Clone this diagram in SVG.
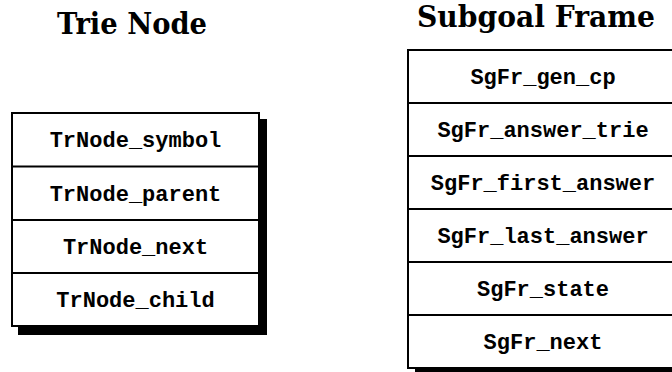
<svg xmlns="http://www.w3.org/2000/svg" width="672" height="372" viewBox="0 0 672 372">
  <style>
    .title { font-family: "DejaVu Serif", "Liberation Serif", serif; font-weight: bold; font-size: 29px; fill: #000; }
    .field { font-family: "Liberation Mono", "DejaVu Sans Mono", monospace; font-weight: bold; font-size: 22px; fill: #000; text-anchor: middle; }
    .box { fill: #fff; stroke: #000; stroke-width: 2; }
    .sep { stroke: #000; stroke-width: 2; }
    .shadow { fill: #000; }
  </style>
  <rect x="0" y="0" width="672" height="372" fill="#fff"/>

  <!-- Trie node record -->
  <g id="trie-node">
    <text class="title" x="57" y="34" textLength="150" lengthAdjust="spacingAndGlyphs">Trie Node</text>
    <rect class="shadow" x="18" y="119" width="249" height="216"/>
    <rect class="box" x="12" y="113" width="247" height="213"/>
    <line class="sep" x1="12" y1="166.5" x2="259" y2="166.5"/>
    <line class="sep" x1="12" y1="220" x2="259" y2="220"/>
    <line class="sep" x1="12" y1="273" x2="259" y2="273"/>
    <text class="field" x="135.5" y="147">TrNode_symbol</text>
    <text class="field" x="135.5" y="200.5">TrNode_parent</text>
    <text class="field" x="135.5" y="254">TrNode_next</text>
    <text class="field" x="135.5" y="307">TrNode_child</text>
  </g>

  <!-- Subgoal frame record -->
  <g id="subgoal-frame">
    <text class="title" x="417" y="27" textLength="238" lengthAdjust="spacingAndGlyphs">Subgoal Frame</text>
    <rect class="shadow" x="415" y="57" width="270" height="322"/>
    <rect class="box" x="408" y="50" width="270" height="318"/>
    <line class="sep" x1="408" y1="103" x2="678" y2="103"/>
    <line class="sep" x1="408" y1="156" x2="678" y2="156"/>
    <line class="sep" x1="408" y1="209" x2="678" y2="209"/>
    <line class="sep" x1="408" y1="262" x2="678" y2="262"/>
    <line class="sep" x1="408" y1="315" x2="678" y2="315"/>
    <text class="field" x="543" y="84">SgFr_gen_cp</text>
    <text class="field" x="543" y="137">SgFr_answer_trie</text>
    <text class="field" x="543" y="190">SgFr_first_answer</text>
    <text class="field" x="543" y="243">SgFr_last_answer</text>
    <text class="field" x="543" y="296">SgFr_state</text>
    <text class="field" x="543" y="349">SgFr_next</text>
  </g>

  <g id="connectors"/>
</svg>
